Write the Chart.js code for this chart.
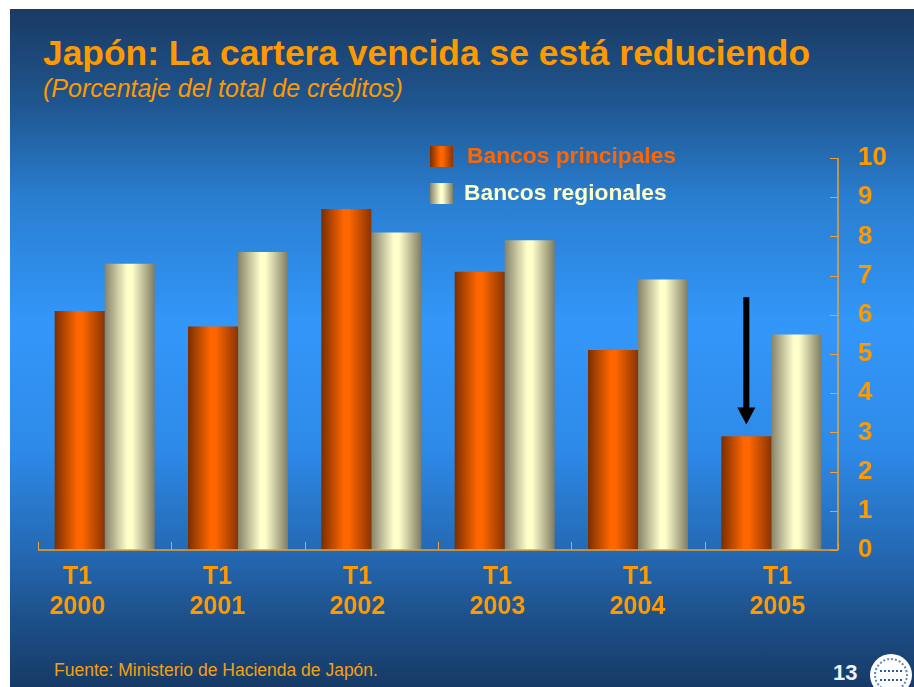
<!DOCTYPE html>
<html>
<head>
<meta charset="utf-8">
<script src="https://cdn.jsdelivr.net/npm/chart.js@4.4.0/dist/chart.umd.min.js"></script>
<style>
  html, body { margin: 0; padding: 0; background: #ffffff; }
  #page { position: relative; width: 914px; height: 687px; overflow: hidden; font-family: "Liberation Sans", Arial, sans-serif; }
  #slide {
    position: absolute; left: 10px; top: 9px; width: 904px; height: 678px;
    background: linear-gradient(to bottom, #1a3a62 0px, #1f5690 95px, #2a7ed0 190px, #3397fa 315px, #2e8ae8 440px, #2468b2 545px, #1d5089 610px, #163a66 678px);
  }
  #title { position: absolute; left: 43px; top: 33px; margin: 0; color: #ff9900; font-size: 35.4px; font-weight: bold; white-space: nowrap; }
  #subtitle { position: absolute; left: 43px; top: 74px; color: #ff9900; font-size: 25px; font-style: italic; white-space: nowrap; }
  #source { position: absolute; left: 54px; top: 660px; color: #f5a010; font-size: 17.5px; white-space: nowrap; }
  #pagenum { position: absolute; left: 833px; top: 660px; color: #eef2f8; font-size: 22px; font-weight: bold; }
  #seal { position: absolute; left: 870px; top: 654px; width: 42px; height: 42px; border-radius: 50%; background: #ffffff; }
  #seal::before { content: ""; position: absolute; left: 4px; top: 4px; width: 30px; height: 30px; border-radius: 50%; border: 2px dotted #5a86bc; }
  #seal::after { content: ""; position: absolute; left: 10px; top: 16px; width: 22px; height: 7px; border-top: 2px dotted #2a5c9a; border-bottom: 2px dotted #2a5c9a; }
  canvas { position: absolute; left: 0; top: 0; }
</style>
</head>
<body>
<div id="page">
  <div id="slide"></div>
  <div id="title">Japón: La cartera vencida se está reduciendo</div>
  <div id="subtitle">(Porcentaje del total de créditos)</div>
  <div id="source">Fuente: Ministerio de Hacienda de Japón.</div>
  <div id="pagenum">13</div>
  <div id="seal"></div>
  <canvas id="chart" width="914" height="687"></canvas>
</div>
<script>
// Data
const years = ["2000", "2001", "2002", "2003", "2004", "2005"];
const quarter = "T1";
const principales = [6.1, 5.7, 8.7, 7.1, 5.1, 2.9];
const regionales = [7.3, 7.6, 8.1, 7.9, 6.9, 5.5];
const seriesNames = ["Bancos principales", "Bancos regionales"];
const yTicks = [0, 1, 2, 3, 4, 5, 6, 7, 8, 9, 10];
const arrowRange = [6.45, 3.2]; // from / to, in % on the y axis

const FONT = '"Liberation Sans", Arial, sans-serif';
const AXIS_COLOR = '#f0a030';

const CAT_PCT = 0.75;

function barGradient(chart, x0, x1, dark, light, darkR) {
  const g = chart.ctx.createLinearGradient(x0, 0, x1, 0);
  g.addColorStop(0, dark);
  g.addColorStop(0.45, light);
  g.addColorStop(0.55, light);
  g.addColorStop(1, darkR || dark);
  return g;
}

function barFill(dark, light, darkR) {
  return function(ctx) {
    const chart = ctx.chart;
    const xs = chart.scales.x;
    if (!chart.chartArea || !xs || ctx.dataIndex === undefined) return light;
    const w = xs.width / years.length * CAT_PCT / 2;
    const cx = xs.getPixelForValue(ctx.dataIndex) + (ctx.datasetIndex === 0 ? -w / 2 : w / 2);
    return barGradient(chart, cx - w / 2, cx + w / 2, dark, light, darkR);
  };
}

// axis lines and inward tick marks
const axesPlugin = {
  id: 'axesPlugin',
  afterDatasetsDraw(chart) {
    const ctx = chart.ctx;
    const a = chart.chartArea;
    const xs = chart.scales.x;
    const ys = chart.scales.y;
    ctx.save();
    ctx.strokeStyle = AXIS_COLOR;
    ctx.lineWidth = 1.5;
    ctx.beginPath();
    ctx.moveTo(a.left, a.bottom);
    ctx.lineTo(a.right, a.bottom);
    ctx.moveTo(a.right, a.bottom);
    ctx.lineTo(a.right, ys.getPixelForValue(10));
    ctx.stroke();
    ctx.lineWidth = 1;
    ctx.beginPath();
    yTicks.forEach(v => {
      const y = Math.round(ys.getPixelForValue(v)) + 0.5;
      ctx.moveTo(a.right - 8, y);
      ctx.lineTo(a.right, y);
    });
    for (let i = 0; i <= years.length; i++) {
      const x = Math.round(xs.getPixelForValue(i - 0.5)) + 0.5;
      ctx.moveTo(x, a.bottom);
      ctx.lineTo(x, a.bottom - 8);
    }
    ctx.stroke();

    // arrow over the last principal bar
    const w = xs.width / years.length * CAT_PCT / 2;
    const ax = xs.getPixelForValue(years.length - 1) - w / 2;
    const y0 = ys.getPixelForValue(arrowRange[0]);
    const y1 = ys.getPixelForValue(arrowRange[1]);
    ctx.fillStyle = '#000000';
    ctx.fillRect(ax - 3, y0, 6, (y1 - y0) - 14);
    ctx.beginPath();
    ctx.moveTo(ax - 9, y1 - 17);
    ctx.lineTo(ax + 9, y1 - 17);
    ctx.lineTo(ax, y1);
    ctx.closePath();
    ctx.fill();
    ctx.restore();
  }
};

// legend drawn at the top of the plot
const legendPlugin = {
  id: 'legendPlugin',
  afterDraw(chart) {
    const ctx = chart.ctx;
    const a = chart.chartArea;
    const x = a.left + 392;
    const rows = [
      { y: a.top - 12, fill: barGradient(chart, x, x + 23, '#7a2e00', '#ff6600', '#8a3400'), text: '#ff6600', tx: x + 37 },
      { y: a.top + 25, fill: barGradient(chart, x, x + 23, '#85836a', '#ffffcc', '#7e7c62'), text: '#ffffcc', tx: x + 34 }
    ];
    ctx.save();
    ctx.font = 'bold 22.8px ' + FONT;
    ctx.textBaseline = 'middle';
    rows.forEach((r, i) => {
      ctx.fillStyle = r.fill;
      ctx.fillRect(x, r.y, 23, 21);
      ctx.fillStyle = r.text;
      ctx.fillText(seriesNames[i], r.tx, r.y + 11);
    });
    ctx.restore();
  }
};

new Chart(document.getElementById('chart'), {
  type: 'bar',
  data: {
    labels: years,
    datasets: [{
      label: seriesNames[0],
      data: principales,
      backgroundColor: barFill('#7a2e00', '#ff6600', '#8a3400'),
      borderWidth: 0
    }, {
      label: seriesNames[1],
      data: regionales,
      backgroundColor: barFill('#85836a', '#ffffcc', '#7e7c62'),
      borderWidth: 0
    }]
  },
  options: {
    responsive: false,
    animation: false,
    devicePixelRatio: 1,
    categoryPercentage: CAT_PCT,
    barPercentage: 1,
    layout: { padding: { left: 38, top: 158, right: 0, bottom: 0 } },
    plugins: {
      legend: { display: false },
      tooltip: { enabled: false }
    },
    scales: {
      x: {
        display: false,
        offset: true
      },
      // label axis: the slide's year labels sit on their own, slightly wider spacing
      xl: {
        type: 'linear',
        position: 'bottom',
        offset: false,
        bounds: 'data',
        grace: 0,
        beginAtZero: false,
        min: -0.282,
        max: 5.432,
        grid: { display: false, drawTicks: false, offset: false },
        border: { display: false },
        afterBuildTicks(scale) {
          scale.ticks = years.map((y, i) => ({ value: i }));
        },
        afterFit(scale) { scale.height = 137; },
        ticks: {
          color: '#ff9900',
          font: { family: FONT, size: 25, weight: 'bold', lineHeight: 1.2 },
          padding: 12,
          maxRotation: 0,
          autoSkip: false,
          callback: (v) => [quarter, years[v]]
        }
      },
      y: {
        position: 'right',
        min: 0,
        max: 10,
        grid: { display: false, drawTicks: false },
        border: { display: false },
        afterBuildTicks(scale) {
          scale.ticks = yTicks.map(v => ({ value: v }));
        },
        afterFit(scale) { scale.width = 76; },
        ticks: {
          color: '#ff9900',
          font: { family: FONT, size: 26, weight: 'bold' },
          padding: 20
        }
      }
    }
  },
  plugins: [axesPlugin, legendPlugin]
});
</script>
</body>
</html>
